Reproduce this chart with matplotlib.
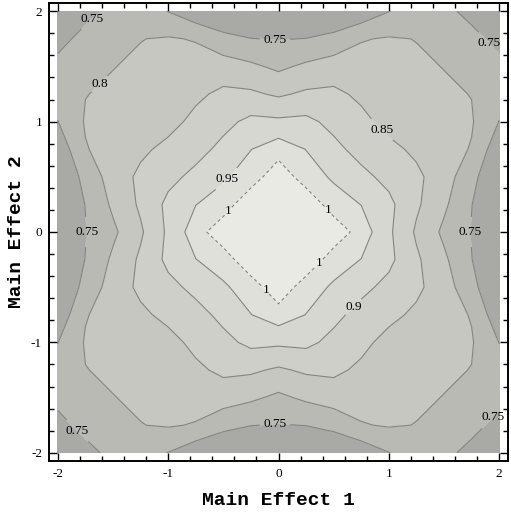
import numpy as np
import matplotlib
matplotlib.use("Agg")
import matplotlib.pyplot as plt
from matplotlib.ticker import MultipleLocator

# grid steps from the centre outwards, same for both main effects
effect_steps = [0.0, 0.25, 0.5, 0.75, 1.0, 1.25, 1.5, 1.75, 2.0]

# response for one quadrant
# rows: Main Effect 2 = 0 .. 2, columns: Main Effect 1 = 0 .. 2
quadrant_values = [
    [1.040, 1.040, 1.035, 0.977, 0.909, 0.843, 0.790, 0.748, 0.705],
    [1.040, 1.040, 0.973, 0.949, 0.912, 0.858, 0.809, 0.751, 0.705],
    [1.035, 0.973, 0.943, 0.913, 0.886, 0.860, 0.824, 0.764, 0.705],
    [0.977, 0.949, 0.913, 0.883, 0.862, 0.841, 0.819, 0.797, 0.715],
    [0.909, 0.912, 0.886, 0.862, 0.835, 0.824, 0.812, 0.804, 0.749],
    [0.843, 0.858, 0.860, 0.841, 0.824, 0.818, 0.806, 0.799, 0.765],
    [0.790, 0.809, 0.824, 0.819, 0.812, 0.806, 0.799, 0.780, 0.757],
    [0.748, 0.751, 0.764, 0.797, 0.804, 0.799, 0.780, 0.758, 0.742],
    [0.705, 0.705, 0.705, 0.715, 0.749, 0.765, 0.757, 0.742, 0.730],
]

contour_levels = [0.75, 0.8, 0.85, 0.9, 0.95, 1.0]
major_ticks = [-2, -1, 0, 1, 2]

# grey shades, lowest band first
shades = ['#a9aaa5', '#b9bab4', '#c6c7c1', '#cecfc9', '#d6d7d1', '#dfe0da', '#e9eae4']

# where the contour labels sit
label_spots = [(-1.72, 1.97), (-0.03, 1.74), (1.90, 1.70), (-1.62, 1.34),
               (0.93, 0.92), (-0.46, 0.47), (-0.45, 0.18), (0.44, 0.19),
               (0.36, -0.27), (-0.12, -0.53), (-1.73, 0.0), (1.71, 0.0),
               (0.64, -0.64), (-0.03, -1.74), (-1.86, -1.84), (1.94, -1.68)]


def build_grid():
    steps = np.array(effect_steps)
    axis_vals = np.concatenate([-steps[:0:-1], steps])
    n = len(steps) - 1
    idx = np.abs(np.arange(-n, n + 1))
    q = np.array(quadrant_values)
    z = q[np.ix_(idx, idx)]
    return axis_vals, z


def main():
    plt.rcParams['axes.unicode_minus'] = False
    xs, z = build_grid()
    X, Y = np.meshgrid(xs, xs)

    fig = plt.figure(figsize=(5.11, 5.14), dpi=100)
    ax = fig.add_axes([49 / 511, 1 - 461 / 514, 459 / 511, 458 / 514])

    fill_levels = [0.5] + contour_levels + [1.2]
    ax.contourf(X, Y, z, levels=fill_levels, colors=shades)
    styles = ['solid'] * 5 + [(0, (3, 2.5))]
    cs = ax.contour(X, Y, z, levels=contour_levels, colors='#858580',
                    linewidths=0.8, linestyles=styles)
    texts = ax.clabel(cs, manual=label_spots, inline=True, inline_spacing=1,
                      fmt=lambda v: f"{v:g}", fontsize=9.5, colors='black')
    for t in texts:
        t.set_rotation(0)
        t.set_family('Liberation Serif')

    ax.set_xlim(-2.08, 2.08)
    ax.set_ylim(-2.075, 2.075)
    ax.set_xticks(major_ticks)
    ax.set_yticks(major_ticks)
    ax.xaxis.set_minor_locator(MultipleLocator(0.2))
    ax.yaxis.set_minor_locator(MultipleLocator(0.2))
    ax.tick_params(which='both', direction='in', top=True, right=True,
                   color='black', width=1)
    ax.tick_params(which='major', length=6, labelsize=9.5, pad=5)
    ax.tick_params(which='minor', length=3.5)
    for lab in ax.get_xticklabels() + ax.get_yticklabels():
        lab.set_family('Liberation Serif')
    for sp in ax.spines.values():
        sp.set_linewidth(1.4)

    ax.set_xlabel('Main Effect 1', family='Liberation Mono', weight='bold',
                  fontsize=14, labelpad=9)
    ax.set_ylabel('Main Effect 2', family='Liberation Mono', weight='bold',
                  fontsize=14, labelpad=4)

    fig.savefig('out.png', dpi=100)


if __name__ == "__main__":
    main()
